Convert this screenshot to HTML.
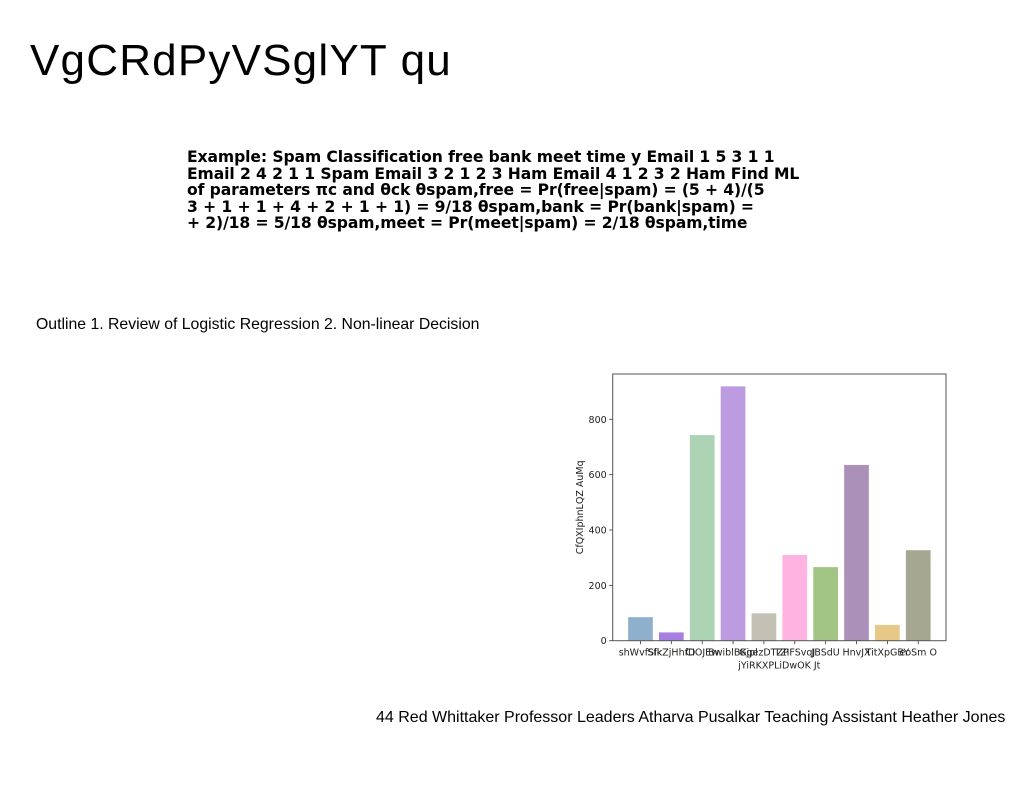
<!DOCTYPE html>
<html><head><meta charset="utf-8"><style>
body{margin:0;width:1024px;height:788px;background:#fff;position:relative;overflow:hidden;font-family:"Liberation Sans",sans-serif}
.t{position:absolute;white-space:nowrap;color:#000}
</style></head><body>
<div class="t" style="left:30px;top:36px;font-size:44px;letter-spacing:1.2px">VgCRdPyVSglYT qu</div>
<div class="t" style="left:187px;top:149px;font-size:15.6px;font-weight:bold;line-height:16.5px;font-family:'DejaVu Sans',sans-serif;letter-spacing:-0.1px">Example: Spam Classification free bank meet time y Email 1 5 3 1 1<br>Email 2 4 2 1 1 Spam Email 3 2 1 2 3 Ham Email 4 1 2 3 2 Ham Find ML<br>of parameters πc and θck θspam,free = Pr(free|spam) = (5 + 4)/(5<br>3 + 1 + 1 + 4 + 2 + 1 + 1) = 9/18 θspam,bank = Pr(bank|spam) =<br>+ 2)/18 = 5/18 θspam,meet = Pr(meet|spam) = 2/18 θspam,time</div>
<div class="t" style="left:36px;top:316px;font-size:15.8px">Outline 1. Review of Logistic Regression 2. Non-linear Decision</div>
<div class="t" style="left:376px;top:709px;font-size:16px">44 Red Whittaker Professor Leaders Atharva Pusalkar Teaching Assistant Heather Jones</div>
<svg id="chart" width="1024" height="788" style="position:absolute;left:0;top:0" font-family="'DejaVu Sans',sans-serif"></svg>
<script>
const categories=["shWvfSlk","SfkZjHhfD","CIOJEw","BwiblBKjpl","GgezDTZP","TZIFSvqJ","JBSdU","HnvJX","TitXpGBY","eoSm O"];
const values=[85,30,743,919,99,310,266,635,57,327];
const colors=["#8fb0cc","#a77fe0","#acd3b3","#bc9be0","#c3c1b3","#feb3e0","#a2c585","#ab91b9","#e6c987","#a5a791"];
const ticks=[0,200,400,600,800];
const svg=document.getElementById('chart');const NS="http://www.w3.org/2000/svg";
const L=612.7,R=946,T=374,B=640.7,ppu=221.4/800;
const y=v=>B-v*ppu;const step=(R-L)/10.8;const x=i=>L+step*(0.9+i);
function mk(t,a,p){const e=document.createElementNS(NS,t);for(const k in a)e.setAttribute(k,a[k]);(p||svg).appendChild(e);return e;}
categories.forEach((c,i)=>{const w=step*0.8;
const r=mk('rect',{x:x(i)-w/2,y:y(values[i]),width:w,height:values[i]*ppu,fill:colors[i]});


mk('line',{x1:x(i),x2:x(i),y1:B,y2:B+3.5,stroke:'#333','stroke-width':0.8});
const t=mk('text',{x:x(i),y:B+15,'font-size':9.5,'text-anchor':'middle',fill:'#222'});t.textContent=c;

});
ticks.forEach(v=>{mk('line',{x1:L-3.5,x2:L,y1:y(v),y2:y(v),stroke:'#333','stroke-width':0.8});
const t=mk('text',{x:L-6,y:y(v)+3.5,'font-size':9.5,'text-anchor':'end',fill:'#222'});t.textContent=v;

});
const f=mk('rect',{x:L,y:T,width:R-L,height:B-T,fill:'none',stroke:'#555','stroke-width':1});


const xl=mk('text',{x:(L+R)/2,y:B+28,'font-size':9.5,'text-anchor':'middle',fill:'#222'});xl.textContent="jYiRKXPLiDwOK Jt";


const yl=mk('text',{x:0,y:0,'font-size':9.5,'text-anchor':'middle',fill:'#222',transform:`translate(583,${(T+B)/2}) rotate(-90)`});yl.textContent="CfQXIphnLQZ AuMq";


</script>
</body></html>
